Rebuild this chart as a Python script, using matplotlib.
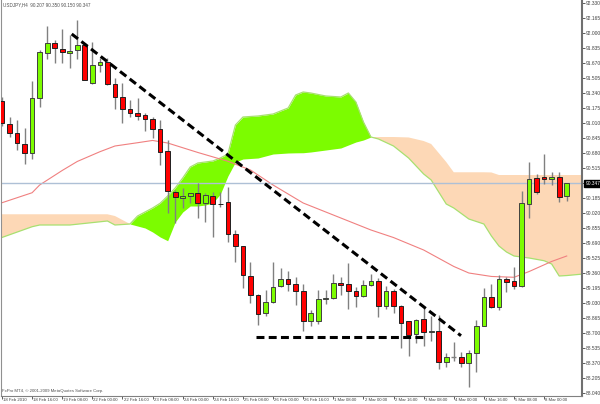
import matplotlib
matplotlib.use("Agg")
import matplotlib.pyplot as plt
import numpy as np

# ---------------- data ----------------
opens = [91.255, 90.996, 90.897, 90.779, 90.677, 91.282, 91.777, 91.887, 91.827, 91.777,
         91.813, 91.868, 91.447, 91.648, 91.678, 91.439, 91.299, 91.164, 91.117, 91.098,
         91.057, 90.944, 90.705, 90.254, 90.182, 90.207, 90.237, 90.127, 90.210, 90.122,
         90.138, 89.786, 89.657, 89.330, 89.118, 88.917, 89.038, 89.217, 89.291, 89.239,
         89.165, 88.832, 88.832, 89.071, 89.082, 89.253, 89.236, 89.165, 89.107, 89.228,
         89.275, 89.000, 89.162, 89.000, 88.832, 88.686, 88.851, 88.708, 88.722, 88.381,
         88.433, 88.433, 88.373, 88.477, 88.780, 89.093, 88.989, 89.291, 89.272, 89.217,
         90.119, 90.402, 90.413, 90.391, 90.419, 90.207]
highs = [91.296, 91.073, 91.043, 90.952, 91.475, 91.813, 92.077, 91.923, 92.041, 91.978,
         92.143, 91.887, 91.904, 91.722, 91.722, 91.502, 91.447, 91.263, 91.282, 91.117,
         91.073, 91.043, 90.823, 90.273, 90.292, 90.243, 90.347, 90.237, 90.254, 90.254,
         90.309, 89.833, 89.660, 89.484, 89.129, 89.173, 89.484, 89.412, 89.382, 89.319,
         89.239, 88.953, 89.173, 89.173, 89.349, 89.319, 89.467, 89.203, 89.283, 89.349,
         89.302, 89.217, 89.181, 89.008, 88.835, 88.851, 88.983, 88.887, 88.898, 88.477,
         88.604, 88.494, 88.513, 88.843, 89.198, 89.239, 89.338, 89.313, 89.423, 90.265,
         90.578, 90.449, 90.666, 90.474, 90.474, 90.350]
lows = [90.977, 90.853, 90.713, 90.559, 90.611, 91.183, 91.711, 91.667, 91.673, 91.612,
        91.711, 91.478, 91.439, 91.574, 91.428, 91.161, 91.013, 91.079, 91.043, 90.922,
        90.842, 90.548, 90.017, 89.913, 90.072, 90.133, 89.962, 89.924, 89.753, 90.083,
        89.704, 89.484, 89.192, 89.033, 88.788, 88.887, 89.033, 89.209, 89.165, 89.008,
        88.725, 88.777, 88.799, 89.019, 89.071, 89.118, 88.964, 88.983, 89.100, 89.217,
        88.873, 88.961, 88.917, 88.532, 88.450, 88.593, 88.557, 88.615, 88.301, 88.329,
        88.395, 88.329, 88.109, 88.274, 88.777, 88.978, 88.953, 89.154, 89.184, 89.209,
        89.968, 90.229, 90.336, 90.328, 90.144, 90.150]
closes = [91.007, 90.897, 90.793, 90.677, 91.282, 91.788, 91.887, 91.832, 91.788, 91.805,
          91.868, 91.483, 91.648, 91.678, 91.436, 91.293, 91.161, 91.117, 91.087, 91.057,
          90.944, 90.694, 90.262, 90.193, 90.204, 90.237, 90.127, 90.218, 90.119, 90.120,
          89.786, 89.660, 89.338, 89.118, 88.909, 89.044, 89.209, 89.291, 89.239, 89.165,
          88.835, 88.917, 89.071, 89.082, 89.247, 89.231, 89.165, 89.107, 89.228, 89.272,
          89.000, 89.162, 88.997, 88.813, 88.678, 88.843, 88.714, 88.722, 88.384, 88.433,
          88.433, 88.367, 88.477, 88.777, 89.093, 88.983, 89.291, 89.264, 89.217, 90.127,
          90.391, 90.248, 90.391, 90.419, 90.199, 90.347]

# moving average (bar index, value)
ma_idx = [0, 4, 5, 8, 10, 13, 15, 18, 20, 22, 26, 30, 33, 36, 40, 49, 52, 56, 60, 62, 65, 68, 70, 73, 75]
ma_val = [90.133, 90.243, 90.328, 90.488, 90.587, 90.694, 90.757, 90.793, 90.818, 90.790, 90.686,
          90.589, 90.493, 90.328, 90.130, 89.833, 89.750, 89.613, 89.432, 89.360, 89.322,
          89.313, 89.376, 89.487, 89.547]

# Ichimoku cloud: span A and span B (bar index, value)
cloud_idx = [-0.2, 4, 5, 9, 14, 15, 17, 18, 19, 20, 21, 22, 23, 24, 25, 26, 27, 28, 29, 30, 31,
             32, 34, 36, 38, 39, 40, 41, 43, 45, 46, 47, 48, 49, 50, 52, 54, 56, 57, 58, 59,
             60, 62, 64, 65, 66, 67, 68, 70, 72, 73, 74, 75, 77.2]
span_a = [89.745, 89.869, 89.888, 89.888, 89.932, 89.888, 89.899, 89.987, 90.031, 90.075,
          90.127, 90.207, 90.295, 90.405, 90.526, 90.570, 90.581, 90.592, 90.625, 90.669,
          90.988, 91.076, 91.087, 91.109, 91.175, 91.318, 91.351, 91.340, 91.307, 91.296,
          91.340, 91.241, 91.021, 90.856, 90.834, 90.757, 90.625, 90.449, 90.383, 90.251,
          90.119, 90.075, 89.954, 89.899, 89.767, 89.657, 89.591, 89.547, 89.525, 89.495,
          89.459, 89.327, 89.332, 89.349]
span_b = [90.006, 90.006, 90.006, 90.006, 90.006, 89.987, 89.899, 89.877, 89.855, 89.811,
          89.756, 89.715, 89.921, 90.031, 90.097, 90.097, 90.108, 90.130, 90.229, 90.427,
          90.581, 90.614, 90.625, 90.669, 90.680, 90.682, 90.683, 90.691, 90.713, 90.735,
          90.768, 90.801, 90.823, 90.856, 90.856, 90.856, 90.851, 90.812, 90.779, 90.680,
          90.581, 90.468, 90.468, 90.468, 90.466, 90.438, 90.438, 90.438, 90.438, 90.438,
          90.438, 90.438, 90.438, 90.438]

# hand-drawn trend lines (bar index, price)
trend_x = [9.26, 60.96]
trend_y = [91.989, 88.670]
support_x = [33.73, 56.4]
support_y = [88.659, 88.659]

xtick_idx = [0, 4, 8, 12, 16, 20, 24, 28, 32, 36, 40, 44, 48, 52, 56, 60, 64, 68, 72]
xtick_labels = ["18 Feb 2010", "18 Feb 16:00", "19 Feb 08:00", "22 Feb 00:00", "22 Feb 16:00",
                "23 Feb 08:00", "24 Feb 00:00", "24 Feb 16:00", "25 Feb 08:00", "26 Feb 00:00",
                "26 Feb 16:00", "1 Mar 08:00", "2 Mar 00:00", "2 Mar 16:00", "3 Mar 08:00",
                "4 Mar 00:00", "4 Mar 16:00", "5 Mar 08:00", "8 Mar 00:00"]
ytick_vals = [round(92.330 - 0.165 * k, 3) for k in range(27)]
last_price = 90.347
title = "USDJPY,H4  90.207 90.350 90.150 90.347"
footer = "FxPro MT4, \u00a9 2001-2009 MetaQuotes Software Corp."

# ---------------- drawing ----------------
plt.rcParams["font.family"] = ["Liberation Sans", "DejaVu Sans"]
fig = plt.figure(figsize=(6.0, 4.04), dpi=100)
fig.patch.set_facecolor("white")
ax = fig.add_axes([1 / 600, 8 / 404, 581 / 600, 396 / 404])
ax.set_facecolor("white")
ax.set_xlim(-0.133, 77.03)
ax.set_ylim(88.007, 92.363)

ci = np.array(cloud_idx)
sa = np.array(span_a)
sb = np.array(span_b)
ax.fill_between(ci, sa, sb, where=sa >= sb, interpolate=True, color="#7CFC00", lw=0, zorder=1)
ax.fill_between(ci, sa, sb, where=sa <= sb, interpolate=True, color="#FDD8B6", lw=0, zorder=1)
ax.plot(ci, sa, color="#A8E070", lw=0.9, zorder=1.5)

ax.plot(ma_idx, ma_val, color="#F08080", lw=0.8, zorder=2)
ax.axhline(last_price, color="#AEC0D6", lw=1.0, zorder=2)

x = np.arange(len(opens))
o = np.array(opens); c = np.array(closes); h = np.array(highs); l = np.array(lows)
ax.vlines(x, l, h, color="#808080", lw=1.0, zorder=3)
bull = c > o
bear = c < o
doji = ~(bull | bear)
bw = 0.62
ax.bar(x[bull], (c - o)[bull], bottom=o[bull], width=bw, color="#7CFC00",
       edgecolor="#404040", lw=0.7, zorder=4)
ax.bar(x[bear], (o - c)[bear], bottom=c[bear], width=bw, color="#FF0000",
       edgecolor="#202020", lw=0.7, zorder=4)
ax.hlines(o[doji], x[doji] - bw / 2, x[doji] + bw / 2, color="#808080", lw=1.0, zorder=4)

ax.plot(trend_x, trend_y, color="black", lw=2.2, ls=(0, (2.6, 1.4)), zorder=5)
ax.plot(support_x, support_y, color="black", lw=2.2, ls=(0, (2.6, 1.4)), zorder=5)

# axes styling
ax.spines["top"].set_visible(False)
ax.spines["left"].set_color("#909090")
ax.spines["bottom"].set_color("#808080")
ax.spines["right"].set_color("#707070")
ax.spines["right"].set_linewidth(1.5)

ax.yaxis.tick_right()
ax.set_yticks(ytick_vals)
ax.set_yticklabels([f"{v:.3f}" for v in ytick_vals])
ax.tick_params(axis="y", which="both", direction="out", length=2.0, width=0.6,
               colors="#404040", pad=1.0, labelsize=3.5)
ax.tick_params(axis="x", which="both", length=2.5, width=0.6, colors="#404040")
ax.set_xticks(xtick_idx)
ax.set_xticklabels([])
for xi, lab in zip(xtick_idx, xtick_labels):
    ax.text(xi + 0.15, -0.006, lab, transform=ax.get_xaxis_transform(), fontsize=3.1,
            color="#404040", ha="left", va="top", clip_on=False)

ax.text(0.003, 0.994, title, transform=ax.transAxes, fontsize=3.3, color="#505050",
        ha="left", va="top")
ax.text(0.002, 0.008, footer, transform=ax.transAxes, fontsize=3.1, color="#505050",
        ha="left", va="bottom")

# current price marker on the axis
ax.text(1.006, last_price, f"{last_price:.3f}", transform=ax.get_yaxis_transform(),
        fontsize=3.5, color="white", ha="left", va="center", zorder=10, clip_on=False,
        bbox=dict(boxstyle="square,pad=0.25", fc="black", ec="black"))

fig.savefig("out.png", dpi=100, facecolor="white")
